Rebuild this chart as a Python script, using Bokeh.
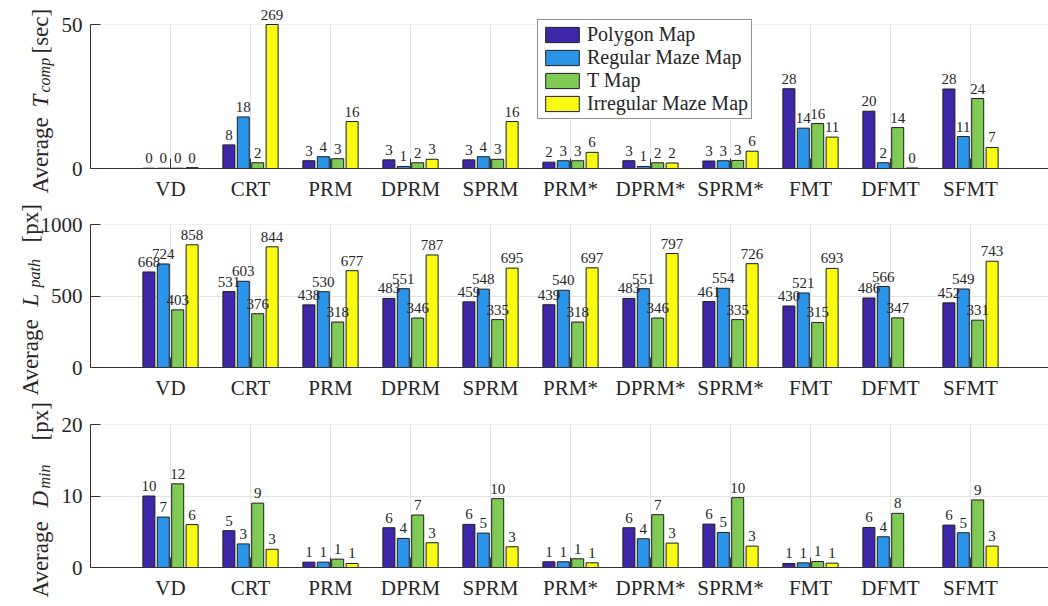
import math
from bokeh.plotting import figure
from bokeh.models import (Range1d, FixedTicker, ColumnDataSource, LabelSet, Label,
                          Legend, LegendItem)
from bokeh.layouts import column
from bokeh.embed import file_html
from bokeh.resources import INLINE

planners = ["VD", "CRT", "PRM", "DPRM", "SPRM", "PRM*", "DPRM*", "SPRM*", "FMT", "DFMT", "SFMT"]
series_names = ["Polygon Map", "Regular Maze Map", "T Map", "Irregular Maze Map"]
series_colors = ["#3E26A8", "#2A95E8", "#7FC955", "#F9FA14"]

# Average computation time [sec]
tcomp_polygon = [0.1, 8.2, 2.7, 3.0, 3.0, 2.2, 2.7, 2.6, 27.7, 19.9, 27.6]
tcomp_regular = [0.1, 17.9, 4.1, 0.7, 4.1, 2.7, 0.7, 2.7, 14.0, 2.0, 11.1]
tcomp_tmap = [0.1, 2.0, 3.4, 2.0, 3.2, 2.7, 2.0, 2.8, 15.6, 14.2, 24.3]
tcomp_irregular = [0.3, 269, 16.3, 3.2, 16.3, 5.6, 1.9, 6.0, 10.9, 0.2, 7.3]

# Average path length [px]
lpath_polygon = [668, 531, 438, 483, 459, 439, 483, 461, 430, 486, 452]
lpath_regular = [724, 603, 530, 551, 548, 540, 551, 554, 521, 566, 549]
lpath_tmap = [403, 376, 318, 346, 335, 318, 346, 335, 315, 347, 331]
lpath_irregular = [858, 844, 677, 787, 695, 697, 797, 726, 693, None, 743]

# Average minimum distance [px]
dmin_polygon = [10.0, 5.15, 0.75, 5.56, 6.03, 0.8, 5.56, 6.07, 0.56, 5.6, 5.93]
dmin_regular = [7.05, 3.3, 0.75, 4.07, 4.81, 0.8, 4.02, 4.9, 0.65, 4.3, 4.86]
dmin_tmap = [11.7, 9.0, 1.17, 7.34, 9.63, 1.22, 7.39, 9.77, 0.84, 7.57, 9.45]
dmin_irregular = [6.0, 2.55, 0.56, 3.46, 2.9, 0.66, 3.41, 2.99, 0.61, None, 2.99]

y_ticks_tcomp = [0, 50]
y_ticks_lpath = [0, 500, 1000]
y_ticks_dmin = [0, 10, 20]

SERIF = "Liberation Serif"
TXT = "#262626"
OFFSETS = [-0.27, -0.09, 0.09, 0.27]
BAR_W = 0.15
FIG_W = 1048
AX_LEFT = 90          # pixel position of x = 0 inside the figure
PX_PER_CAT = 80.0


def make_panel(series_values, yticks, height, ytop_px, y0_px, ylabel_pieces, ylabel_x):
    ymax = yticks[-1]
    scale = (y0_px - ytop_px) / ymax
    y_start = -(height - y0_px) / scale
    y_end = y0_px / scale
    x_start = -AX_LEFT / PX_PER_CAT
    x_end = (FIG_W - AX_LEFT) / PX_PER_CAT
    p = figure(width=FIG_W, height=height, x_range=Range1d(x_start, x_end),
               y_range=Range1d(y_start, y_end), output_backend="svg", toolbar_location=None,
               min_border=0)
    p.outline_line_color = None
    p.background_fill_color = "white"
    p.border_fill_color = "white"

    # white masks so the grid only shows inside the axes box
    p.quad(left=[x_start, 0, 0], right=[0, x_end, x_end],
           bottom=[y_start, y_start, ymax], top=[y_end, 0, y_end],
           fill_color="white", line_color=None)

    renderers = []
    for k, vals in enumerate(series_values):
        xs, tops, lt = [], [], []
        for i, v in enumerate(vals):
            if v is None:
                continue
            xs.append(i + 1 + OFFSETS[k])
            tops.append(min(v, ymax))
            lt.append(str(int(math.floor(v + 0.5))))
        src = ColumnDataSource(dict(x=xs, top=tops, lt=lt))
        r = p.vbar(x="x", top="top", bottom=0, width=BAR_W, source=src,
                   fill_color=series_colors[k], line_color="#1E1E1E", line_width=1)
        renderers.append(r)
        p.add_layout(LabelSet(x="x", y="top", text="lt", source=src, text_align="center",
                              text_baseline="alphabetic", y_offset=5,
                              text_font=SERIF, text_font_size="15px", text_color=TXT))

    cats = list(range(1, len(planners) + 1))
    p.xaxis.ticker = FixedTicker(ticks=cats)
    p.xaxis.major_label_overrides = {i + 1: name for i, name in enumerate(planners)}
    p.xaxis.fixed_location = 0
    p.xaxis.bounds = (0, x_end)
    p.yaxis.ticker = FixedTicker(ticks=yticks)
    p.yaxis.fixed_location = 0
    p.yaxis.bounds = (0, ymax)
    for ax in (p.xaxis, p.yaxis):
        ax.major_tick_in = 10
        ax.major_tick_out = 0
        ax.minor_tick_line_color = None
        ax.axis_line_color = "#333333"
        ax.major_tick_line_color = "#333333"
        ax.major_label_text_font = SERIF
        ax.major_label_text_font_size = "21px"
        ax.major_label_text_color = TXT
        ax.major_label_standoff = 8
    p.xgrid.ticker = FixedTicker(ticks=cats)
    p.ygrid.ticker = FixedTicker(ticks=yticks)
    p.xgrid.grid_line_color = "#E3E3E3"
    p.ygrid.grid_line_color = "#E3E3E3"

    below = height - y0_px
    for text, sy, size, style, dx in ylabel_pieces:
        p.add_layout(Label(x=ylabel_x + dx, y=below + sy, x_units="screen", y_units="screen",
                           text=text, angle=math.pi / 2, text_align="left",
                           text_baseline="alphabetic", text_font=SERIF,
                           text_font_size=size, text_font_style=style, text_color=TXT))
    return p, renderers


p1, rends = make_panel([tcomp_polygon, tcomp_regular, tcomp_tmap, tcomp_irregular],
                       y_ticks_tcomp, 200, 24, 168,
                       [("Average", -25, "23px", "normal", 0),
                        ("T", 61, "23px", "italic", 0),
                        ("comp", 76, "16px", "italic", 4),
                        ("[sec]", 115, "23px", "normal", 0)], 40)
p2, _ = make_panel([lpath_polygon, lpath_regular, lpath_tmap, lpath_irregular],
                   y_ticks_lpath, 200, 24, 167,
                   [("Average", -28, "23px", "normal", 0),
                    ("L", 61, "23px", "italic", 0),
                    ("path", 80, "16px", "italic", 4),
                    ("[px]", 125, "23px", "normal", 0)], 30)
p3, _ = make_panel([dmin_polygon, dmin_regular, dmin_tmap, dmin_irregular],
                   y_ticks_dmin, 202, 24, 167,
                   [("Average", -30, "23px", "normal", 0),
                    ("D", 60, "23px", "italic", 0),
                    ("min", 79, "16px", "italic", 4),
                    ("[px]", 127, "23px", "normal", 0)], 40)

legend = Legend(items=[LegendItem(label=n, renderers=[r]) for n, r in zip(series_names, rends)],
                location=(537, 81), label_text_font=SERIF, label_text_font_size="20px",
                label_text_color=TXT, glyph_width=42, glyph_height=19, label_height=19,
                spacing=0, padding=3, margin=0, label_standoff=4,
                border_line_color="#262626", border_line_width=1,
                background_fill_color="white", background_fill_alpha=1.0)
p1.add_layout(legend)

layout = column(p1, p2, p3, spacing=0)
open("out.html", "w").write(file_html(layout, INLINE))
